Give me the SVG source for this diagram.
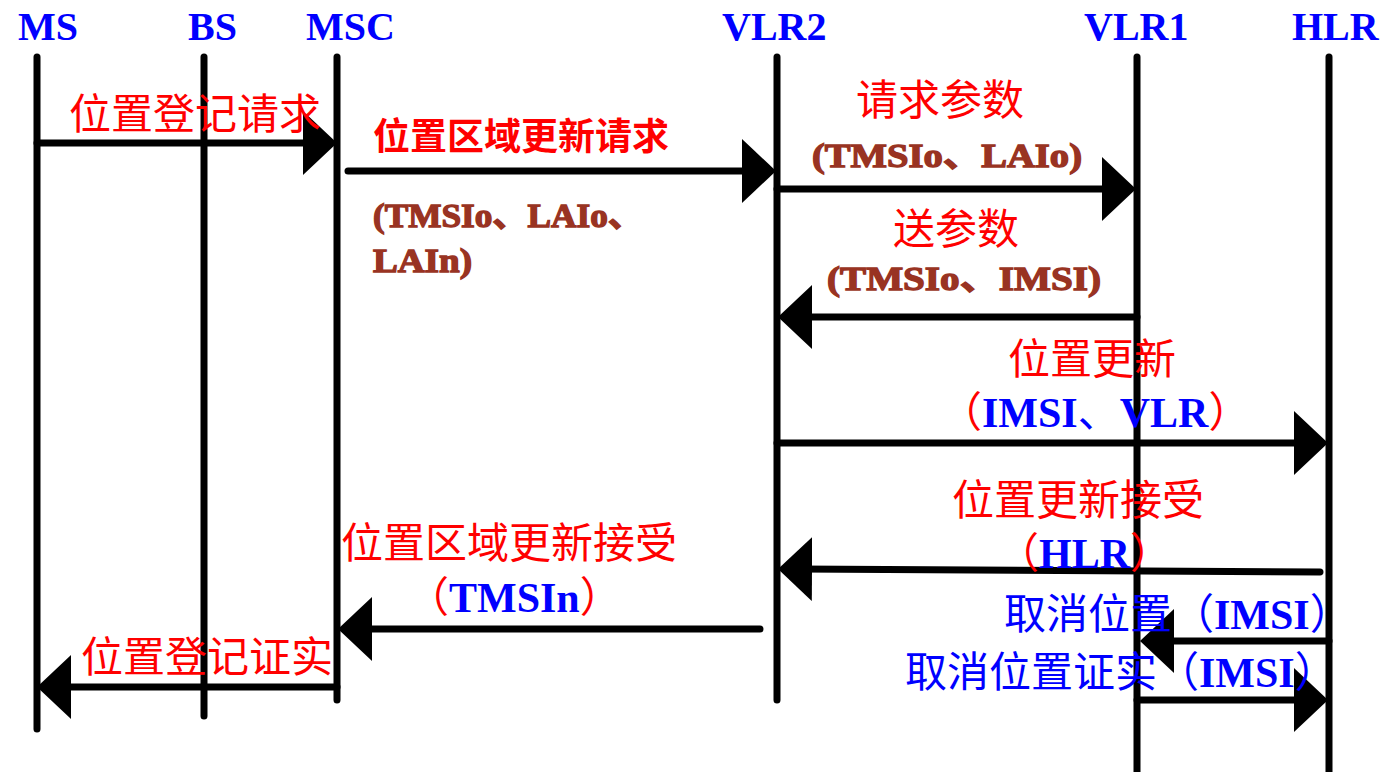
<svg xmlns="http://www.w3.org/2000/svg" width="1384" height="772" viewBox="0 0 1384 772">
<style>
.life{stroke:#000;stroke-width:7;stroke-linecap:round;fill:none}
.hdr{font-family:"Liberation Serif","Times New Roman",serif;font-weight:bold;font-size:40px;fill:#0000ff}
.conn{stroke:#000;stroke-width:7;fill:none;stroke-linecap:round;marker-end:url(#ah)}
.cn{font-family:"Noto Sans CJK SC","Noto Sans CJK JP",sans-serif;font-size:42px}
.red{fill:#ff0000}
.blue{fill:#0000ff}
.brown{font-family:"Liberation Serif","Noto Sans CJK SC",serif;font-weight:bold;font-size:33px;fill:#993322;stroke:#993322;stroke-width:1.3}
.lat{font-family:"Liberation Serif","Noto Sans CJK SC",serif;font-weight:bold}
.par{font-family:"Noto Sans CJK SC",sans-serif;font-weight:normal}
</style>
<defs>
<marker id="ah" viewBox="0 0 34 64" refX="14" refY="32" markerWidth="34" markerHeight="64" markerUnits="userSpaceOnUse" orient="auto">
<path d="M0,0 L34,32 L0,64 Z" fill="#000"/>
</marker>
</defs>
<rect width="1384" height="772" fill="#fff"/>

<g id="MS">
<line class="life" x1="37" y1="57" x2="37" y2="729"/>
<text class="hdr" x="18" y="40">MS</text>
</g>
<g id="BS">
<line class="life" x1="204" y1="57" x2="204" y2="716"/>
<text class="hdr" x="188" y="40">BS</text>
</g>
<g id="MSC">
<line class="life" x1="337" y1="57" x2="337" y2="700"/>
<text class="hdr" x="306" y="40">MSC</text>
</g>
<g id="VLR2">
<line class="life" x1="777" y1="57" x2="777" y2="700"/>
<text class="hdr" x="722" y="40">VLR2</text>
</g>
<g id="VLR1">
<line class="life" x1="1137" y1="57" x2="1137" y2="790"/>
<text class="hdr" x="1084" y="40">VLR1</text>
</g>
<g id="HLR">
<line class="life" x1="1329" y1="57" x2="1329" y2="790"/>
<text class="hdr" x="1292" y="40">HLR</text>
</g>

<g id="connectors">
<path class="conn" d="M37,143 L317,143"/>
<path class="conn" d="M348,171 L756,171"/>
<path class="conn" d="M777,189 L1116,189"/>
<path class="conn" d="M1137,317 L798,317"/>
<path class="conn" d="M777,443 L1308,443"/>
<path class="conn" d="M1320,572 L798,569"/>
<path class="conn" d="M760,629 L358,629"/>
<path class="conn" d="M337,687 L57,687"/>
<path class="conn" d="M1329,641 L1160,641"/>
<path class="conn" d="M1137,700 L1308,700"/>
</g>

<g id="labels">
<text class="cn red" x="69" y="129">位置登记请求</text>
<text class="cn red" x="373" y="150" style="font-size:37px;font-weight:bold">位置区域更新请求</text>
<text class="brown" x="373" y="227" textLength="270" lengthAdjust="spacingAndGlyphs">(TMSIo、LAIo、</text>
<text class="brown" x="373" y="272" textLength="99" lengthAdjust="spacingAndGlyphs">LAIn)</text>

<text class="cn red" x="856" y="115">请求参数</text>
<text class="brown" x="812" y="167" textLength="270" lengthAdjust="spacingAndGlyphs">(TMSIo、LAIo)</text>

<text class="cn red" x="893" y="244">送参数</text>
<text class="brown" x="827" y="290" textLength="274" lengthAdjust="spacingAndGlyphs">(TMSIo、IMSI)</text>

<text class="cn red" x="1008" y="374">位置更新</text>
<text x="940" y="427" style="font-size:42px"><tspan class="par red">（</tspan><tspan class="lat blue">IMSI</tspan><tspan class="par blue">、</tspan><tspan class="lat blue">VLR</tspan><tspan class="par red">）</tspan></text>

<text class="cn red" x="952" y="515">位置更新接受</text>
<text x="997" y="568" style="font-size:42px"><tspan class="par red">（</tspan><tspan class="lat blue">HLR</tspan><tspan class="par red">）</tspan></text>

<text class="cn red" x="341" y="558">位置区域更新接受</text>
<text x="407" y="612" style="font-size:42px"><tspan class="par red">（</tspan><tspan class="lat blue">TMSIn</tspan><tspan class="par red">）</tspan></text>

<text class="cn red" x="81" y="672">位置登记证实</text>

<text x="1004" y="629" style="font-size:42px"><tspan class="par blue">取消位置（</tspan><tspan class="lat blue">IMSI</tspan><tspan class="par blue">）</tspan></text>
<text x="905" y="687" style="font-size:42px"><tspan class="par blue">取消位置证实（</tspan><tspan class="lat blue">IMSI</tspan><tspan class="par blue">）</tspan></text>
</g>
</svg>
